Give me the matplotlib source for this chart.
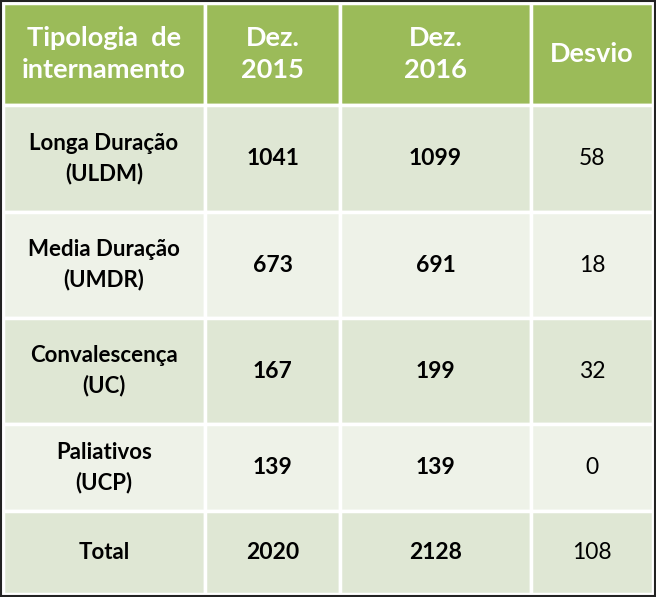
import matplotlib.pyplot as plt
from matplotlib.patches import Rectangle

# table content
header = ['Tipologia  de\ninternamento', 'Dez.\n2015', 'Dez.\n2016', 'Desvio']
categories = ['Longa Duração\n(ULDM)', 'Media Duração\n(UMDR)', 'Convalescença\n(UC)',
              'Paliativos\n(UCP)', 'Total']
dez_2015 = [1041, 673, 167, 139, 2020]
dez_2016 = [1099, 691, 199, 139, 2128]
desvio = [58, 18, 32, 0, 108]

# layout (pixels)
col_edges = [3, 205, 340, 531, 653]
row_edges = [3, 105, 212, 318, 424, 511, 594]
header_color = '#9BBB59'
band_colors = ['#DFE7D4', '#EEF2E8']
font = 'Lato'

fig = plt.figure(figsize=(6.56, 5.97), dpi=100)
ax = fig.add_axes([0, 0, 1, 1])
ax.set_xlim(0, 656)
ax.set_ylim(597, 0)
ax.axis('off')


def cell(r, c, color):
    x0, x1 = col_edges[c], col_edges[c + 1]
    y0, y1 = row_edges[r], row_edges[r + 1]
    ax.add_patch(Rectangle((x0, y0), x1 - x0, y1 - y0, facecolor=color,
                           edgecolor='white', linewidth=2.5))
    return (x0 + x1) / 2, (y0 + y1) / 2


# header row
for c, label in enumerate(header):
    cx, cy = cell(0, c, header_color)
    ax.text(cx, cy, label, ha='center', va='center', color='white',
            fontsize=19.5, fontweight='bold', family=font, linespacing=1.45)

# body rows
for r in range(len(categories)):
    color = band_colors[r % 2]
    values = [categories[r], dez_2015[r], dez_2016[r], desvio[r]]
    for c, v in enumerate(values):
        cx, cy = cell(r + 1, c, color)
        weight = 'normal' if c == 3 else 'bold'
        size = 16 if c == 0 else 16.5
        ax.text(cx, cy, str(v), ha='center', va='center', color='black',
                fontsize=size, fontweight=weight, family=font, linespacing=1.5)

# outer frame
ax.add_patch(Rectangle((1, 1), 654, 595, facecolor='none',
                       edgecolor='#222222', linewidth=1.5))

fig.savefig('out.png', dpi=100)
